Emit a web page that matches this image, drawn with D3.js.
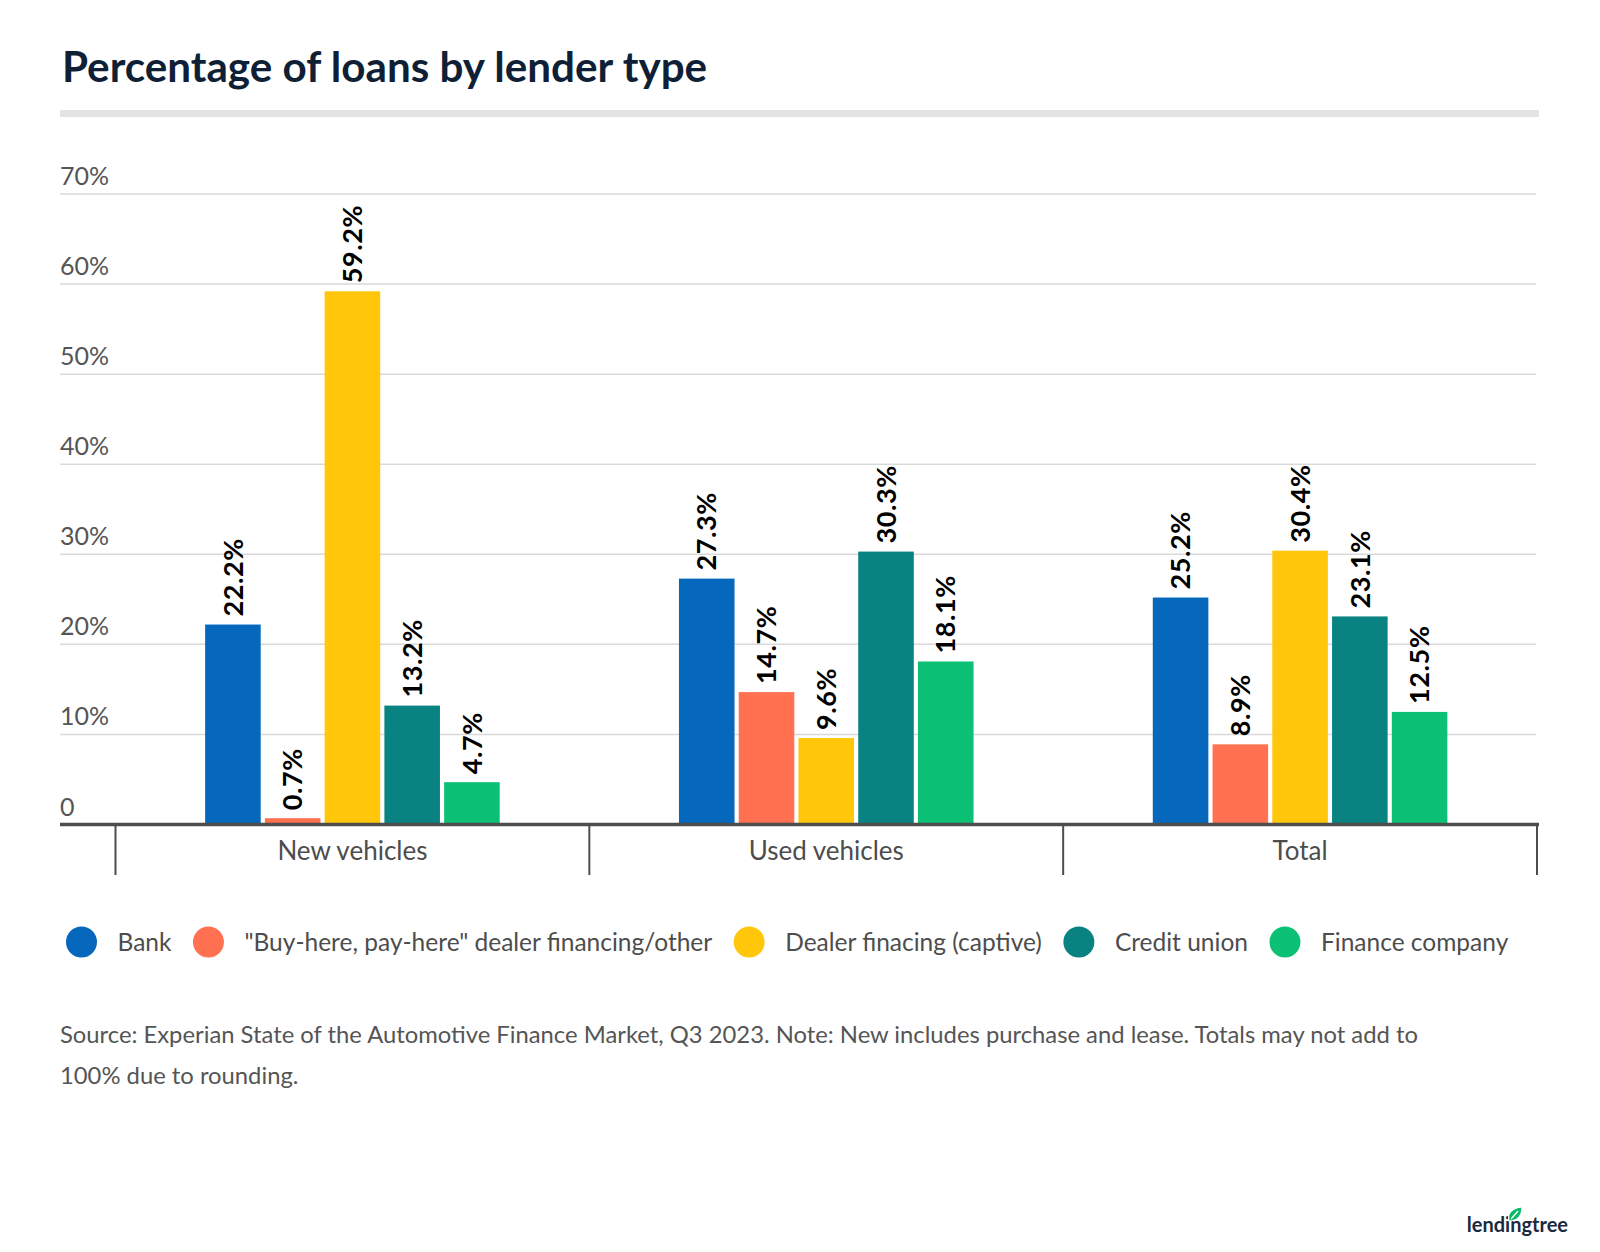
<!DOCTYPE html>
<html>
<head>
<meta charset="utf-8">
<script src="https://cdn.jsdelivr.net/npm/d3@7"></script>
<style>
  html, body { margin: 0; padding: 0; background: #fff; }
  svg { display: block; font-family: Lato, "Open Sans", sans-serif; }
</style>
</head>
<body>
<svg id="chart" width="1600" height="1252"></svg>
<script>
const categories = ["New vehicles", "Used vehicles", "Total"];
const seriesNames = ["Bank", "\"Buy-here, pay-here\" dealer financing/other", "Dealer finacing (captive)", "Credit union", "Finance company"];
const seriesColors = ["#0568BD", "#FF7150", "#FFC60A", "#088381", "#0CC175"];
const bankValues = [22.2, 27.3, 25.2];
const bhphValues = [0.7, 14.7, 8.9];
const dealerValues = [59.2, 9.6, 30.4];
const creditUnionValues = [13.2, 30.3, 23.1];
const financeCompanyValues = [4.7, 18.1, 12.5];
const yTicks = [0, 10, 20, 30, 40, 50, 60, 70];
const yTickLabels = ["0", "10%", "20%", "30%", "40%", "50%", "60%", "70%"];
const titleText = "Percentage of loans by lender type";
const sourceLines = [
  "Source: Experian State of the Automotive Finance Market, Q3 2023. Note: New includes purchase and lease. Totals may not add to",
  "100% due to rounding."
];

const seriesValues = [bankValues, bhphValues, dealerValues, creditUnionValues, financeCompanyValues];
const data = categories.map((c, ci) => ({
  category: c,
  values: seriesNames.map((s, si) => ({ series: s, value: seriesValues[si][ci], color: seriesColors[si] }))
}));

const svg = d3.select("#chart");

// Title
svg.append("text").attr("x", 62).attr("y", 82)
  .attr("font-size", 42.2).attr("font-weight", 700).attr("fill", "#0F1F36")
  .text(titleText);

// Gray rule
svg.append("rect").attr("x", 60).attr("y", 110).attr("width", 1479).attr("height", 7).attr("fill", "#E3E3E3");

const y = d3.scaleLinear().domain([0, 70]).range([824.5, 194]);
const x0 = d3.scaleBand().domain(categories).range([115.5, 1537]).padding(0);
const x1 = d3.scaleBand().domain(seriesNames).range([0, x0.bandwidth()]).paddingInner(0.07).paddingOuter(1.5);

// Gridlines
const grid = svg.append("g");
grid.selectAll("line").data(yTicks.filter(t => t > 0)).join("line")
  .attr("x1", 60).attr("x2", 1536)
  .attr("y1", d => y(d)).attr("y2", d => y(d))
  .attr("stroke", "#D9D9D9").attr("stroke-width", 1.5);

// Y tick labels
svg.append("g").selectAll("text").data(yTicks).join("text")
  .attr("x", 60).attr("y", d => y(d) - 9)
  .attr("font-size", 25).attr("fill", "#555")
  .text((d, i) => yTickLabels[i]);

// Bars
const groups = svg.append("g").selectAll("g").data(data).join("g")
  .attr("transform", d => `translate(${x0(d.category)},0)`);

groups.selectAll("rect").data(d => d.values).join("rect")
  .attr("x", d => x1(d.series))
  .attr("width", x1.bandwidth())
  .attr("y", d => y(d.value))
  .attr("height", d => y(0) - y(d.value))
  .attr("fill", d => d.color);

groups.selectAll("text").data(d => d.values).join("text")
  .attr("transform", d => `translate(${x1(d.series) + x1.bandwidth() / 2},${y(d.value) - 8}) rotate(-90)`)
  .attr("dy", "0.36em")
  .attr("font-size", 27).attr("font-weight", 700).attr("fill", "#000")
  .attr("letter-spacing", 0.6)
  .text(d => d.value.toFixed(1) + "%");

// X axis baseline
svg.append("line").attr("x1", 60).attr("x2", 1539).attr("y1", y(0)).attr("y2", y(0))
  .attr("stroke", "#4D4D4D").attr("stroke-width", 3.5);

// Category separators
const sepX = categories.map(c => x0(c)).concat([x0(categories[categories.length - 1]) + x0.bandwidth()]);
svg.append("g").selectAll("line").data(sepX).join("line")
  .attr("x1", d => d).attr("x2", d => d)
  .attr("y1", y(0)).attr("y2", 875)
  .attr("stroke", "#4D4D4D").attr("stroke-width", 2);

// Category labels
svg.append("g").selectAll("text").data(categories).join("text")
  .attr("x", d => x0(d) + x0.bandwidth() / 2).attr("y", 860)
  .attr("text-anchor", "middle").attr("font-size", 26).attr("fill", "#4D4D4D")
  .text(d => d);

// Legend
const legend = svg.append("g");
let lx = 66;
seriesNames.forEach((s, i) => {
  const cx = lx + 15.5;
  legend.append("circle").attr("cx", cx).attr("cy", 942).attr("r", 15.5).attr("fill", seriesColors[i]);
  const t = legend.append("text").attr("x", cx + 36).attr("y", 942).attr("dy", "0.35em")
    .attr("font-size", 24.5).attr("fill", "#4D4D4D").text(s);
  const w = t.node().getComputedTextLength();
  lx = cx + 36 + w + 21.5;
});

// Source
svg.append("g").selectAll("text").data(sourceLines).join("text")
  .attr("x", 60).attr("y", (d, i) => 1043 + i * 40.5)
  .attr("font-size", 23.8).attr("fill", "#555")
  .text(d => d);

// Logo
const logo = svg.append("g");
logo.append("text").attr("x", 1568).attr("y", 1232).attr("text-anchor", "end")
  .attr("font-size", 20).attr("font-weight", 700).attr("fill", "#1B2A3D")
  .text("lendingtree");
logo.append("path")
  .attr("d", "M1509,1221 C1507,1213 1512,1208 1522,1207 C1522,1216 1517,1221 1509,1221 Z")
  .attr("fill", "#0CB86A").attr("stroke", "#fff").attr("stroke-width", 1.2);
logo.append("path")
  .attr("d", "M1511,1219 L1518,1211")
  .attr("stroke", "#fff").attr("stroke-width", 1.3);
</script>
</body>
</html>
